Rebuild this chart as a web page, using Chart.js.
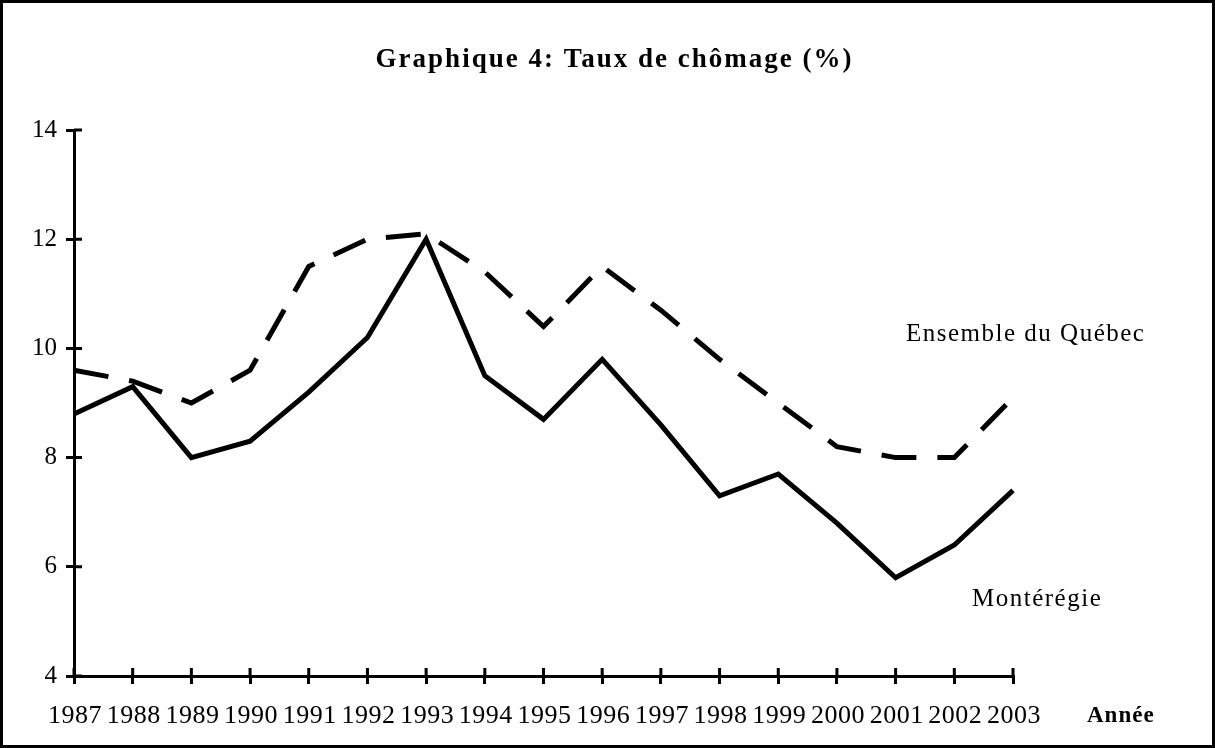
<!DOCTYPE html>
<html>
<head>
<meta charset="utf-8">
<script src="https://cdn.jsdelivr.net/npm/chart.js@4/dist/chart.umd.min.js"></script>
<style>
  html, body { margin: 0; padding: 0; background: #fff; }
  #frame { width: 1215px; height: 748px; box-sizing: border-box; border: 3px solid #000; }
  canvas { display: block; }
</style>
</head>
<body>
<div id="frame"><canvas id="chart" width="1209" height="742"></canvas></div>
<script>
// Données
const years = ['1987', '1988', '1989', '1990', '1991', '1992', '1993', '1994', '1995',
  '1996', '1997', '1998', '1999', '2000', '2001', '2002', '2003'];
const quebec = [9.6, 9.4, 9.0, 9.6, 11.5, 12.0, 12.1, 11.4, 10.4, 11.5, 10.7, 9.8, 9.0, 8.2, 8.0, 8.0, 9.1];
const monteregie = [8.8, 9.3, 8.0, 8.3, 9.2, 10.2, 12.0, 9.5, 8.7, 9.8, 8.6, 7.3, 7.7, 6.8, 5.8, 6.4, 7.4];
const yTicks = [4, 6, 8, 10, 12, 14];

const TITLE = 'Graphique 4: Taux de chômage (%)';
const SERIF = '"Liberation Serif", "Times New Roman", serif';

// ticks qui traversent l'axe, étiquettes des années, textes libres
const extras = {
  id: 'extras',
  afterDraw(chart) {
    const ctx = chart.ctx;
    const x = chart.scales.x, y = chart.scales.y;
    const area = chart.chartArea;
    ctx.save();
    ctx.strokeStyle = '#000';
    ctx.lineWidth = 3;
    ctx.beginPath();
    y.ticks.forEach((t, i) => {
      const py = y.getPixelForTick(i);
      ctx.moveTo(area.left, py); ctx.lineTo(area.left + 8, py);
    });
    x.ticks.forEach((t, i) => {
      const px = x.getPixelForTick(i);
      ctx.moveTo(px, area.bottom); ctx.lineTo(px, area.bottom - 8);
    });
    ctx.stroke();

    ctx.fillStyle = '#000';
    ctx.textBaseline = 'middle';
    ctx.textAlign = 'center';

    // années
    ctx.font = '26px ' + SERIF;
    ctx.letterSpacing = '0.5px';
    x.ticks.forEach((t, i) => {
      ctx.fillText(x.getLabelForValue(t.value), x.getPixelForTick(i) + 1, area.bottom + 40);
    });

    ctx.font = 'bold 27px ' + SERIF;
    ctx.letterSpacing = '2px';
    ctx.fillText(TITLE, chart.width / 2 + 7, 57);

    ctx.textAlign = 'left';
    ctx.font = '25px ' + SERIF;
    ctx.letterSpacing = '1.5px';
    ctx.fillText('Ensemble du Québec', 903, 331);
    ctx.fillText('Montérégie', 969, 596);

    ctx.font = 'bold 23px ' + SERIF;
    ctx.letterSpacing = '1px';
    ctx.fillText('Année', 1084, 713);
    ctx.restore();
  }
};

new Chart(document.getElementById('chart').getContext('2d'), {
  type: 'line',
  data: {
    labels: years,
    datasets: [{
      label: 'Ensemble du Québec',
      data: quebec,
      borderColor: '#000',
      borderWidth: 5,
      borderDash: [35, 21],
      borderCapStyle: 'butt',
      borderJoinStyle: 'miter',
      pointRadius: 0,
      tension: 0,
      fill: false
    }, {
      label: 'Montérégie',
      data: monteregie,
      borderColor: '#000',
      borderWidth: 5,
      borderJoinStyle: 'miter',
      pointRadius: 0,
      tension: 0,
      fill: false
    }]
  },
  options: {
    responsive: false,
    animation: false,
    layout: { padding: { left: 0, right: 199, top: 127, bottom: 9 } },
    plugins: { legend: { display: false }, title: { display: false }, tooltip: { enabled: false } },
    scales: {
      x: {
        offset: false,
        grid: { drawOnChartArea: false, tickLength: 8, color: '#000', lineWidth: 3 },
        border: { color: '#000', width: 3 },
        ticks: { display: false, autoSkip: false },
        afterFit(scale) { scale.height = 60; }
      },
      y: {
        min: 4, max: 14,
        afterBuildTicks(scale) { scale.ticks = yTicks.map(v => ({ value: v })); },
        grid: { drawOnChartArea: false, tickLength: 8, color: '#000', lineWidth: 3 },
        border: { color: '#000', width: 3 },
        ticks: { color: '#000', font: { family: SERIF, size: 25 }, padding: 9 },
        afterFit(scale) { scale.width = 71; }
      }
    }
  },
  plugins: [extras]
});
</script>
</body>
</html>
